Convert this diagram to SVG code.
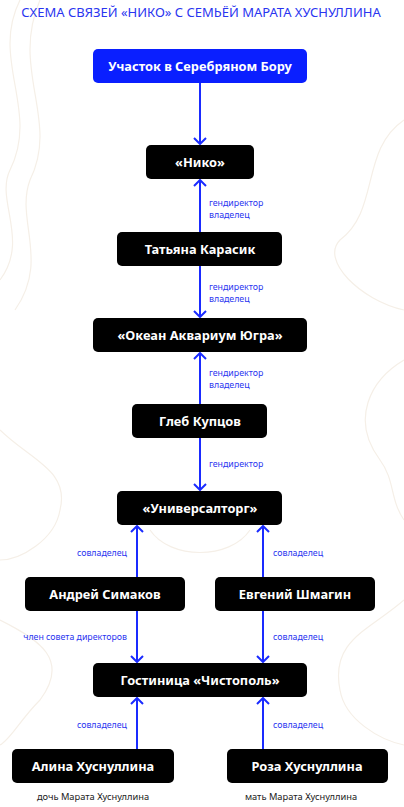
<svg xmlns="http://www.w3.org/2000/svg" width="404" height="807" viewBox="0 0 404 807">
<defs>
<style>
.bg{fill:#ffffff}
.topo{fill:none;stroke:#f5efe7;stroke-width:1.2}
.title{font-family:"Noto Sans","Liberation Sans",sans-serif;font-size:13px;fill:#2a35f0;text-anchor:middle}
.node rect{fill:#000000}
.node.blue rect{fill:#0a1fff}
.node text{font-family:"Noto Sans","Liberation Sans",sans-serif;font-weight:bold;font-size:12.8px;fill:#ffffff;text-anchor:middle}
.edge{stroke:#1a2bff;stroke-width:2;fill:none}
.lbl{font-family:"Noto Sans","Liberation Sans",sans-serif;font-size:8.8px;fill:#2a35f0}
.lbl.end{text-anchor:end}
.cap{font-family:"Noto Sans","Liberation Sans",sans-serif;font-size:9.3px;fill:#222222;text-anchor:middle}
</style>
<marker id="arr" viewBox="0 0 8 14" refX="7" refY="7" markerWidth="8" markerHeight="14" markerUnits="userSpaceOnUse" orient="auto">
<path d="M1,1 L7,7 L1,13" fill="none" stroke="#1a2bff" stroke-width="2"/>
</marker>
</defs>
<rect class="bg" x="0" y="0" width="404" height="807"/>
<g id="background">
<path class="topo" d="M20,0 C-10,60 40,110 10,170 C-5,200 30,240 0,280"/>
<path class="topo" d="M40,0 C10,70 60,120 30,180 C15,220 50,260 15,310"/>
<path class="topo" d="M404,120 C360,150 380,210 340,240 C320,260 360,300 404,310"/>
<path class="topo" d="M404,360 C370,380 350,420 380,460 C395,480 390,500 404,520"/>
<path class="topo" d="M0,430 C30,460 70,470 60,510 C55,540 20,560 0,560"/>
<path class="topo" d="M0,620 C40,640 70,660 40,700 C20,720 10,740 0,745"/>
<path class="topo" d="M404,600 C370,630 330,640 340,690 C345,720 380,740 404,745"/>
<path class="topo" d="M150,530 C170,560 230,560 250,530"/>
</g>
<text class="title" x="201" y="16.5">СХЕМА СВЯЗЕЙ «НИКО» С СЕМЬЁЙ МАРАТА ХУСНУЛЛИНА</text>
<g id="connectors">
<line class="edge" x1="200" y1="83" x2="200" y2="144" marker-end="url(#arr)"/>
<line class="edge" x1="200" y1="232" x2="200" y2="180" marker-end="url(#arr)"/>
<line class="edge" x1="200" y1="266" x2="200" y2="317" marker-end="url(#arr)"/>
<line class="edge" x1="200" y1="404" x2="200" y2="353" marker-end="url(#arr)"/>
<line class="edge" x1="200" y1="438" x2="200" y2="490" marker-end="url(#arr)"/>
<line class="edge" x1="137" y1="577" x2="137" y2="526" marker-end="url(#arr)"/>
<line class="edge" x1="263" y1="577" x2="263" y2="526" marker-end="url(#arr)"/>
<line class="edge" x1="137" y1="611" x2="137" y2="662" marker-end="url(#arr)"/>
<line class="edge" x1="263" y1="611" x2="263" y2="662" marker-end="url(#arr)"/>
<line class="edge" x1="137" y1="749" x2="137" y2="698" marker-end="url(#arr)"/>
<line class="edge" x1="263" y1="749" x2="263" y2="698" marker-end="url(#arr)"/>
<text class="lbl" x="209" y="205.5">гендиректор</text>
<text class="lbl" x="209" y="217.5">владелец</text>
<text class="lbl" x="209" y="289.5">гендиректор</text>
<text class="lbl" x="209" y="301.5">владелец</text>
<text class="lbl" x="209" y="375.5">гендиректор</text>
<text class="lbl" x="209" y="387.5">владелец</text>
<text class="lbl" x="209" y="467">гендиректор</text>
<text class="lbl end" x="127" y="556">совладелец</text>
<text class="lbl" x="273" y="556">совладелец</text>
<text class="lbl end" x="127" y="640">член совета директоров</text>
<text class="lbl" x="273" y="640">совладелец</text>
<text class="lbl end" x="127" y="728">совладелец</text>
<text class="lbl" x="273" y="728">совладелец</text>
</g>
<g id="n-uchastok" class="node blue"><rect x="93" y="49" width="214" height="34" rx="5"/><text x="200" y="70.5">Участок в Серебряном Бору</text></g>
<g id="n-niko" class="node"><rect x="146" y="145" width="108" height="34" rx="5"/><text x="200" y="166.5">«Нико»</text></g>
<g id="n-karasik" class="node"><rect x="117" y="232" width="165" height="34" rx="5"/><text x="200" y="253.5">Татьяна Карасик</text></g>
<g id="n-okean" class="node"><rect x="93" y="318" width="214" height="34" rx="5"/><text x="200" y="339.5">«Океан Аквариум Югра»</text></g>
<g id="n-kuptsov" class="node"><rect x="132" y="404" width="135" height="34" rx="5"/><text x="200" y="425.5">Глеб Купцов</text></g>
<g id="n-universaltorg" class="node"><rect x="117" y="491" width="165" height="34" rx="5"/><text x="200" y="512.5">«Универсалторг»</text></g>
<g id="n-simakov" class="node"><rect x="25" y="577" width="160" height="34" rx="5"/><text x="105" y="598.5">Андрей Симаков</text></g>
<g id="n-shmagin" class="node"><rect x="215" y="577" width="160" height="34" rx="5"/><text x="295" y="598.5">Евгений Шмагин</text></g>
<g id="n-chistopol" class="node"><rect x="93" y="663" width="214" height="34" rx="5"/><text x="200" y="684.5">Гостиница «Чистополь»</text></g>
<g id="n-alina" class="node"><rect x="12" y="749" width="162" height="34" rx="5"/><text x="93" y="770.5">Алина Хуснуллина</text></g>
<g id="n-roza" class="node"><rect x="227" y="749" width="161" height="34" rx="5"/><text x="307" y="770.5">Роза Хуснуллина</text></g>
<text class="cap" x="93" y="800">дочь Марата Хуснуллина</text>
<text class="cap" x="301" y="800">мать Марата Хуснуллина</text>
</svg>
